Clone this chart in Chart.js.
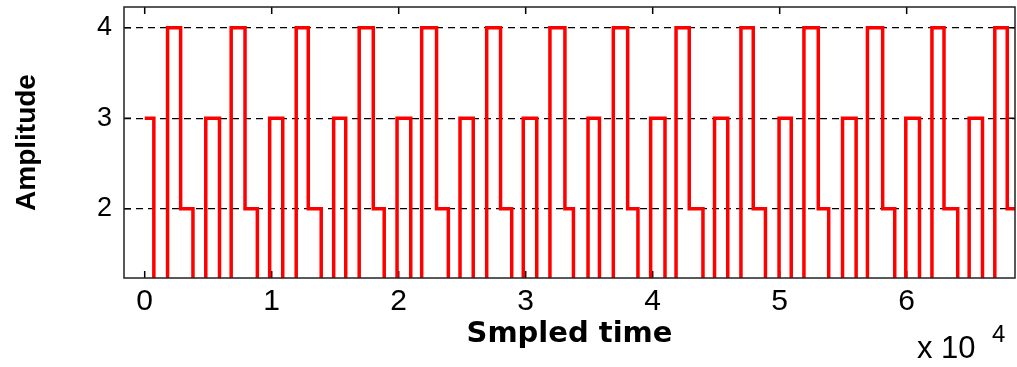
<!DOCTYPE html>
<html>
<head>
<meta charset="utf-8">
<script src="https://cdn.jsdelivr.net/npm/chart.js@4/dist/chart.umd.min.js"></script>
<style>
  html, body { margin: 0; padding: 0; background: #fff; }
  #wrap { width: 1017px; height: 367px; }
</style>
</head>
<body>
<div id="wrap"><canvas id="chart"></canvas></div>
<script>
// sample index where each level change happens
const startTime = 0
const endTime = 68530
const switchTimes = [
  720, 1800, 2830, 3800, 4810,
  5890, 6810, 7900, 8870, 9840,
  10870, 11930, 12880, 13900, 14880,
  15830, 16890, 18000, 18860, 19870,
  20950, 21810, 22980, 23910, 24830,
  25870, 26930, 28020, 28900, 29810,
  30870, 31910, 33090, 33760, 34910,
  35810, 36900, 38030, 38840, 39840,
  40970, 41840, 42880, 43960, 44870,
  45910, 46950, 47920, 48880, 49950,
  50910, 51910, 53040, 53860, 54950,
  56020, 56910, 58110, 59060, 59930,
  61010, 61990, 62940, 64020, 64920,
  65970, 66940, 67920
]
// level at start, then the level after each switch
const levels = [3,
  1, 4, 2, 1, 3,
  1, 4, 2, 1, 3,
  1, 4, 2, 1, 3,
  1, 4, 2, 1, 3,
  1, 4, 2, 1, 3,
  1, 4, 2, 1, 3,
  1, 4, 2, 1, 3,
  1, 4, 2, 1, 3,
  1, 4, 2, 1, 3,
  1, 4, 2, 1, 3,
  1, 4, 2, 1, 3,
  1, 4, 2, 1, 3,
  1, 4, 2, 1, 3,
  1, 4, 2
]
const xTicks = [0, 1, 2, 3, 4, 5, 6]   // in units of 10^4
const yTicks = [2, 3, 4]

const points = [{ x: startTime, y: levels[0] }]
switchTimes.forEach((t, i) => points.push({ x: t, y: levels[i + 1] }))
points.push({ x: endTime, y: levels[levels.length - 1] })

const frame = {
  id: 'frame',
  beforeDatasetsDraw(chart) {
    const { ctx, chartArea: a, scales: { x, y } } = chart
    ctx.save()
    ctx.strokeStyle = '#000'
    ctx.lineWidth = 1.5
    ctx.beginPath()
    x.ticks.forEach(t => {
      const px = x.getPixelForValue(t.value)
      ctx.moveTo(px, a.bottom); ctx.lineTo(px, a.bottom - 7)
      ctx.moveTo(px, a.top); ctx.lineTo(px, a.top + 7)
    })
    y.ticks.forEach(t => {
      const py = y.getPixelForValue(t.value)
      ctx.moveTo(a.left, py); ctx.lineTo(a.left + 7, py)
      ctx.moveTo(a.right, py); ctx.lineTo(a.right - 7, py)
    })
    ctx.stroke()
    ctx.restore()
  },
  afterDraw(chart) {
    const { ctx, chartArea: a } = chart
    ctx.save()
    ctx.strokeStyle = '#222'
    ctx.lineWidth = 1.5
    ctx.strokeRect(a.left, a.top, a.width, a.height)
    ctx.fillStyle = '#000'
    ctx.textBaseline = 'alphabetic'
    ctx.font = '31px "Liberation Sans", Arial, sans-serif'
    ctx.fillText('x 10', 917, 358)
    ctx.font = '24px "Liberation Sans", Arial, sans-serif'
    ctx.fillText('4', 992, 342)
    ctx.restore()
  }
}

new Chart(document.getElementById('chart').getContext('2d'), {
  type: 'line',
  data: {
    datasets: [{
      data: points,
      stepped: true,
      borderColor: '#ff0000',
      borderWidth: 3.5,
      pointRadius: 0,
      fill: false
    }]
  },
  options: {
    responsive: true,
    maintainAspectRatio: false,
    animation: false,
    layout: { padding: { top: 7, right: 2, left: 0, bottom: 0 } },
    plugins: { legend: { display: false }, tooltip: { enabled: false } },
    scales: {
      x: {
        type: 'linear',
        min: -1630,
        max: 68530,
        afterBuildTicks: s => { s.ticks = xTicks.map(v => ({ value: v * 10000 })) },
        afterFit: s => { s.height = 89; s.paddingLeft = 0; s.paddingRight = 0 },
        grid: { display: false, drawTicks: false },
        border: { display: false },
        ticks: {
          color: '#000',
          padding: 6,
          font: { family: '"Liberation Sans", Arial, sans-serif', size: 30 },
          callback: v => String(v / 10000)
        },
        title: {
          display: true,
          text: 'Smpled time',
          color: '#000',
          font: { family: '"DejaVu Sans", sans-serif', size: 29, weight: 'bold' },
          padding: { top: 15, bottom: 15 }
        }
      },
      y: {
        min: 1.235,
        max: 4.23,
        afterBuildTicks: s => { s.ticks = yTicks.map(v => ({ value: v })) },
        afterFit: s => { s.width = 124; s.paddingTop = 0; s.paddingBottom = 0 },
        grid: { drawTicks: false, color: '#000', lineWidth: 1.3 },
        border: { display: false, dash: [7, 5] },
        ticks: {
          color: '#000',
          padding: 12,
          font: { family: '"Liberation Sans", Arial, sans-serif', size: 27 }
        },
        title: {
          display: true,
          text: 'Amplitude',
          color: '#000',
          font: { family: '"Liberation Sans", Arial, sans-serif', size: 28, weight: 'bold' },
          padding: { top: 10, bottom: 10 }
        }
      }
    }
  },
  plugins: [frame]
})
</script>
</body>
</html>
